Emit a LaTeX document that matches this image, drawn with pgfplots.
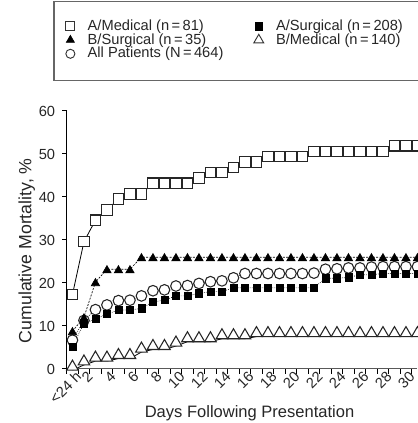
\documentclass[border=0pt]{standalone}
\usepackage{fontspec}
\setmainfont{Liberation Sans}
\usepackage{pgfplots}
\pgfplotsset{compat=1.18}
\usepackage{pgfplotstable}

\pgfplotstableread{
x    am   as   bs   bm   all
0.5  17.3 5.2  8.8  0.9  6.7
1.5  29.6 10.6 12.0 2.1  11.3
2.5  34.6 11.6 20.2 3.0  13.8
3.5  37.0 12.8 23.2 3.0  14.9
4.5  39.5 13.7 23.2 3.6  15.9
5.5  40.7 13.7 23.2 3.6  16.0
6.5  40.7 14.1 26.0 5.1  17.0
7.5  43.2 15.6 26.0 5.7  18.2
8.5  43.2 16.0 26.0 5.7  18.4
9.5  43.2 17.0 26.0 6.5  19.3
10.5 43.2 17.0 26.0 7.5  19.4
11.5 44.4 17.6 26.0 7.5  19.9
12.5 45.7 18.0 26.0 7.5  20.3
13.5 45.7 18.0 26.0 8.2  20.5
14.5 46.9 18.9 26.0 8.2  21.2
15.5 48.1 18.9 26.0 8.2  22.2
16.5 48.1 18.9 26.0 8.7  22.2
17.5 49.4 18.9 26.0 8.7  22.2
18.5 49.4 18.9 26.0 8.7  22.2
19.5 49.4 18.9 26.0 8.7  22.2
20.5 49.4 18.9 26.0 8.7  22.2
21.5 50.6 18.9 26.0 8.7  22.3
22.5 50.6 21.1 26.0 8.7  23.2
23.5 50.6 21.1 26.0 8.7  23.3
24.5 50.6 21.3 26.0 8.7  23.5
25.5 50.6 21.9 26.0 8.7  23.5
26.5 50.6 21.9 26.0 8.7  23.7
27.5 50.6 22.2 26.0 8.7  23.8
28.5 51.9 22.2 26.0 8.7  23.8
29.5 51.9 22.2 26.0 8.7  23.8
30.5 51.9 22.2 26.0 8.7  23.8
}\datatable

\pgfplotsset{
  mylegimg/.style={legend image code/.code={%
    \path[draw=none, fill=none] (-6pt,-5pt) rectangle (6pt,5pt);
    \draw[##1] plot coordinates {(0pt,0pt)};}},
}

\begin{document}
\begin{tikzpicture}
\begin{axis}[
  scale only axis, width=262.8pt, height=193.5pt,
  xmin=0, xmax=30.47, ymin=0, ymax=60,
  clip=false,
  axis x line=bottom, axis y line=left,
  axis line style={-, line width=0.75pt},
  x axis line style={black!65},
  ytick={0,10,...,60},
  xtick={0,...,30},
  xticklabels={,<24 h,2,,4,,6,,8,,10,,12,,14,,16,,18,,20,,22,,24,,26,,28,,30},
  tick align=outside,
  major tick length=3.5pt,
  tick style={line width=0.75pt, black},
  /pgf/number format/assume math mode=true,
  ticklabel style={font=\fontsize{11}{13}\selectfont, text=black!85},
  xticklabel style={rotate=45, anchor=east, inner sep=1.5pt, xshift=1.5pt, yshift=-0.5pt},
  yticklabel style={inner sep=5pt},
  xlabel={Days Following Presentation},
  ylabel={Cumulative Mortality, \%},
  xlabel style={font=\fontsize{12.4}{14}\selectfont, text=black!85, at={(axis cs:15.9,-11.33)}, anchor=base},
  ylabel style={font=\fontsize{13.3}{15}\selectfont, text=black!85, at={(axis cs:-3.48,27.5)}, anchor=center},
  legend columns=2,
  legend style={at={(axis cs:-0.4,81.3)}, anchor=north west, draw=none, fill=none,
    inner sep=0pt, row sep=0.3pt, column sep=7pt,
    font=\fontsize{11}{13}\selectfont,
    nodes={inner sep=0pt, text height=8pt, text depth=2pt, text=black!85},
    /tikz/every even column/.append style={column sep=20.5pt}},
  legend cell align=left,
]
% legend images
\addlegendimage{mylegimg, mark=square*, mark size=3.4pt, mark options={fill=white, draw=black!80, line width=0.8pt}}
\addlegendentry{A/Medical (n\,=\,81)}
\addlegendimage{mylegimg, mark=square*, mark size=2.7pt, mark options={fill=black, draw=black}}
\addlegendentry{A/Surgical (n\,=\,208)}
\addlegendimage{mylegimg, mark=triangle*, mark size=3.6pt, mark options={fill=black, draw=black}}
\addlegendentry{B/Surgical (n\,=\,35)}
\addlegendimage{mylegimg, mark=triangle*, mark size=4.3pt, mark options={fill=white, draw=black!80, line width=0.7pt}}
\addlegendentry{B/Medical (n\,=\,140)}
\addlegendimage{mylegimg, mark=*, mark size=3.4pt, mark options={fill=white, draw=black!80, line width=0.7pt}}
\addlegendentry{All Patients (N\,=\,464)}

% All patients
\addplot[forget plot, black, line width=0.5pt, densely dotted, mark=*, mark size=4pt,
  mark options={solid, fill=white, draw=black!85, line width=0.8pt}] table[x=x, y=all] {\datatable};
% A/Surgical
\addplot[forget plot, black, line width=0.5pt, densely dotted, mark=square*, mark size=2.7pt,
  mark options={solid, fill=black, draw=black}] table[x=x, y=as] {\datatable};
% B/Medical line (at base of triangles)
\addplot[forget plot, black, line width=0.6pt, no marks, yshift=-3.75pt] table[x=x, y=bm] {\datatable};
% B/Medical marks
\addplot[forget plot, only marks, mark=triangle*, mark size=5pt,
  mark options={fill=white, draw=black!85, line width=0.8pt, yshift=-1.25pt}] table[x=x, y=bm] {\datatable};
% B/Surgical
\addplot[forget plot, black, line width=0.5pt, dash pattern=on 1.5pt off 1pt, mark=triangle*, mark size=3.6pt,
  mark options={solid, fill=black, draw=black, yshift=-0.9pt}] table[x=x, y=bs] {\datatable};
% A/Medical
\addplot[forget plot, black, line width=0.6pt, mark=square*, mark size=3.9pt,
  mark options={solid, fill=white, draw=black!85, line width=0.8pt}] table[x=x, y=am] {\datatable};

\draw[black!60, line width=0.9pt] (axis cs:-1.1,67.05) rectangle (axis cs:31.5,85.42);
\coordinate (BL) at (axis cs:-5.8,-12.56);
\coordinate (TR) at (axis cs:30.47,85.81);
\end{axis}
\pgfresetboundingbox
\path[use as bounding box] (BL) rectangle (TR);
\end{tikzpicture}
\end{document}
